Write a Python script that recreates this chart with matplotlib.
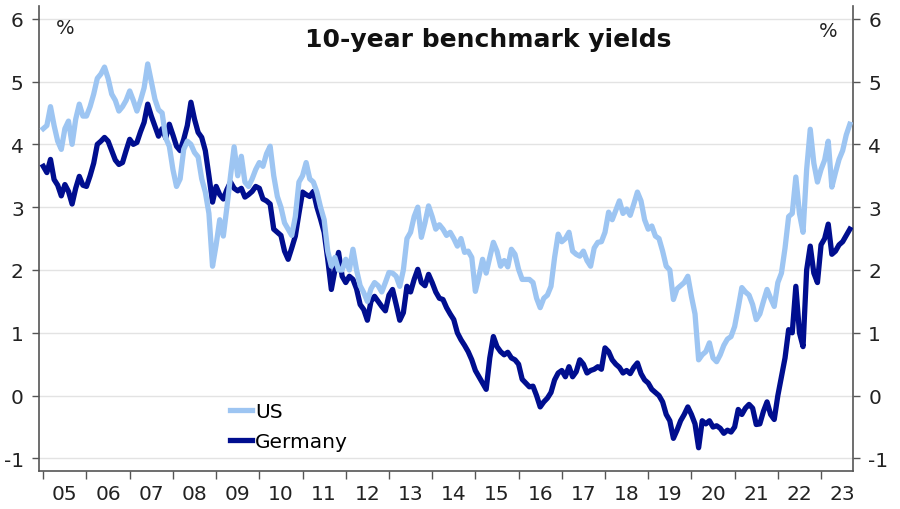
import numpy as np
import matplotlib
matplotlib.use('Agg')
import matplotlib.pyplot as plt
from matplotlib.ticker import FixedLocator, NullFormatter

plt.rcParams['axes.unicode_minus'] = False

# monthly 10y yields, Jan 2005 .. Sep 2023 (%)
us = [
    4.25, 4.30, 4.60, 4.30, 4.05, 3.92, 4.25, 4.37, 4.00, 4.40, 4.64, 4.45,  # 2005
    4.45, 4.60, 4.80, 5.05, 5.12, 5.23, 5.05, 4.80, 4.70, 4.53, 4.60, 4.70,  # 2006
    4.85, 4.70, 4.53, 4.70, 4.90, 5.28, 5.00, 4.72, 4.55, 4.50, 4.10, 3.97,  # 2007
    3.60, 3.33, 3.45, 3.92, 4.05, 4.00, 3.87, 3.80, 3.45, 3.24, 2.90, 2.06,  # 2008
    2.40, 2.80, 2.54, 3.00, 3.50, 3.96, 3.50, 3.81, 3.40, 3.33, 3.45, 3.60,  # 2009
    3.71, 3.65, 3.85, 3.97, 3.50, 3.17, 3.00, 2.75, 2.65, 2.55, 2.85, 3.40,  # 2010
    3.50, 3.71, 3.45, 3.40, 3.24, 3.00, 2.80, 2.30, 2.06, 2.20, 2.00, 2.00,  # 2011
    2.17, 2.00, 2.33, 2.00, 1.75, 1.64, 1.50, 1.70, 1.80, 1.75, 1.65, 1.80,  # 2012
    1.96, 1.95, 1.90, 1.74, 2.00, 2.50, 2.60, 2.85, 3.00, 2.52, 2.75, 3.02,  # 2013
    2.85, 2.65, 2.72, 2.65, 2.55, 2.60, 2.50, 2.38, 2.50, 2.28, 2.30, 2.20,  # 2014
    1.66, 1.90, 2.17, 1.95, 2.20, 2.44, 2.30, 2.06, 2.15, 2.05, 2.33, 2.25,  # 2015
    2.01, 1.85, 1.85, 1.85, 1.80, 1.55, 1.40, 1.55, 1.60, 1.74, 2.20, 2.57,  # 2016
    2.45, 2.50, 2.60, 2.30, 2.25, 2.22, 2.30, 2.15, 2.06, 2.35, 2.44, 2.45,  # 2017
    2.60, 2.92, 2.80, 2.95, 3.10, 2.90, 2.97, 2.87, 3.05, 3.24, 3.10, 2.80,  # 2018
    2.65, 2.70, 2.54, 2.50, 2.30, 2.06, 2.00, 1.53, 1.70, 1.75, 1.80, 1.90,  # 2019
    1.58, 1.30, 0.57, 0.65, 0.70, 0.84, 0.60, 0.54, 0.65, 0.80, 0.90, 0.94,  # 2020
    1.10, 1.40, 1.72, 1.65, 1.60, 1.45, 1.21, 1.30, 1.50, 1.69, 1.55, 1.42,  # 2021
    1.80, 1.95, 2.35, 2.85, 2.90, 3.48, 2.90, 2.60, 3.60, 4.24, 3.70, 3.40,  # 2022
    3.60, 3.75, 4.05, 3.32, 3.55, 3.76, 3.90, 4.15, 4.32,                    # 2023
]
germany = [
    3.65, 3.55, 3.76, 3.44, 3.35, 3.18, 3.36, 3.25, 3.05, 3.30, 3.49, 3.35,  # 2005
    3.33, 3.50, 3.70, 4.00, 4.05, 4.11, 4.05, 3.90, 3.75, 3.68, 3.71, 3.90,  # 2006
    4.08, 4.00, 4.03, 4.20, 4.35, 4.64, 4.45, 4.29, 4.13, 4.25, 4.10, 4.32,  # 2007
    4.15, 3.97, 3.90, 4.08, 4.30, 4.67, 4.40, 4.19, 4.11, 3.90, 3.50, 3.08,  # 2008
    3.33, 3.20, 3.13, 3.28, 3.40, 3.30, 3.26, 3.30, 3.16, 3.20, 3.25, 3.33,  # 2009
    3.30, 3.13, 3.10, 3.05, 2.65, 2.60, 2.55, 2.30, 2.17, 2.35, 2.54, 2.90,  # 2010
    3.24, 3.20, 3.17, 3.25, 3.00, 2.81, 2.60, 2.17, 1.69, 2.00, 2.28, 1.90,  # 2011
    1.80, 1.90, 1.85, 1.70, 1.45, 1.37, 1.20, 1.50, 1.58, 1.50, 1.42, 1.35,  # 2012
    1.60, 1.69, 1.45, 1.20, 1.32, 1.74, 1.65, 1.85, 2.01, 1.80, 1.75, 1.93,  # 2013
    1.80, 1.65, 1.55, 1.53, 1.40, 1.30, 1.21, 1.00, 0.89, 0.80, 0.70, 0.57,  # 2014
    0.40, 0.30, 0.20, 0.10, 0.60, 0.94, 0.78, 0.70, 0.65, 0.69, 0.60, 0.57,  # 2015
    0.50, 0.26, 0.20, 0.14, 0.15, 0.00, -0.18, -0.10, -0.04, 0.05, 0.25, 0.36,  # 2016
    0.40, 0.30, 0.46, 0.30, 0.38, 0.57, 0.50, 0.36, 0.40, 0.42, 0.46, 0.42,  # 2017
    0.76, 0.70, 0.57, 0.50, 0.45, 0.36, 0.40, 0.35, 0.45, 0.52, 0.35, 0.25,  # 2018
    0.20, 0.10, 0.05, 0.00, -0.10, -0.30, -0.40, -0.68, -0.55, -0.40, -0.30, -0.18,  # 2019
    -0.30, -0.45, -0.83, -0.40, -0.45, -0.40, -0.50, -0.48, -0.52, -0.60, -0.55, -0.58,  # 2020
    -0.50, -0.22, -0.30, -0.20, -0.14, -0.20, -0.46, -0.45, -0.25, -0.10, -0.30, -0.38,  # 2021
    0.00, 0.30, 0.60, 1.05, 1.00, 1.74, 1.00, 0.78, 2.00, 2.38, 1.95, 1.80,  # 2022
    2.40, 2.50, 2.73, 2.25, 2.30, 2.40, 2.45, 2.55, 2.65,                    # 2023
]
years = list(range(2005, 2024))
year_labels = ['%02d' % (y % 100) for y in years]

t = 2005 + np.arange(len(us)) / 12.0

us_color = '#9dc5f2'
de_color = '#000e8f'
axis_color = '#555555'

fig = plt.figure(figsize=(9, 5.1), dpi=100)
ax = fig.add_axes([0.0433, 0.0745, 0.9045, 0.9115])

ax.plot(t, germany, color=de_color, lw=3.8, solid_joinstyle='round', label='Germany', zorder=3)
ax.plot(t, us, color=us_color, lw=3.8, solid_joinstyle='round', label='US', zorder=4)

ax.set_xlim(2004.9, 2023.74)
ax.set_ylim(-1.2, 6.2)

# gridlines
ax.set_yticks(range(-1, 7))
ax.grid(axis='y', color='#e3e3e3', lw=1.0)
ax.set_axisbelow(True)

# x: ticks at year boundaries, labels centred on each year
ax.xaxis.set_major_locator(FixedLocator(years))
ax.xaxis.set_major_formatter(NullFormatter())
ax.xaxis.set_minor_locator(FixedLocator([y + 0.5 for y in years]))
ax.set_xticklabels(year_labels, minor=True)
ax.tick_params(axis='x', which='major', length=6, width=1, color=axis_color, direction='out')
ax.tick_params(axis='x', which='minor', length=0, pad=9, labelsize=14.5, labelcolor='#222222')

# y on both sides
ax.tick_params(axis='y', which='both', left=True, right=True, labelleft=True, labelright=True,
               length=5, width=1, color=axis_color, labelsize=14.5, labelcolor='#222222', pad=6)

for side in ['left', 'right', 'bottom']:
    ax.spines[side].set_color(axis_color)
    ax.spines[side].set_linewidth(1.2)
ax.spines['top'].set_visible(False)

ax.text(0.552, 0.929, '10-year benchmark yields', transform=ax.transAxes, ha='center', va='center',
        fontsize=18, fontweight='bold', color='#111111')
ax.text(0.032, 0.953, '%', transform=ax.transAxes, ha='center', va='center', fontsize=14, color='#222222')
ax.text(0.970, 0.948, '%', transform=ax.transAxes, ha='center', va='center', fontsize=14, color='#222222')

handles, labels = ax.get_legend_handles_labels()
leg = ax.legend(handles[::-1], labels[::-1], loc='upper left', bbox_to_anchor=(0.225, 0.165),
                frameon=False, fontsize=14.5, handlelength=1.1, handletextpad=0.15,
                labelspacing=0.55, borderaxespad=0)

fig.savefig('out.png', dpi=100)
